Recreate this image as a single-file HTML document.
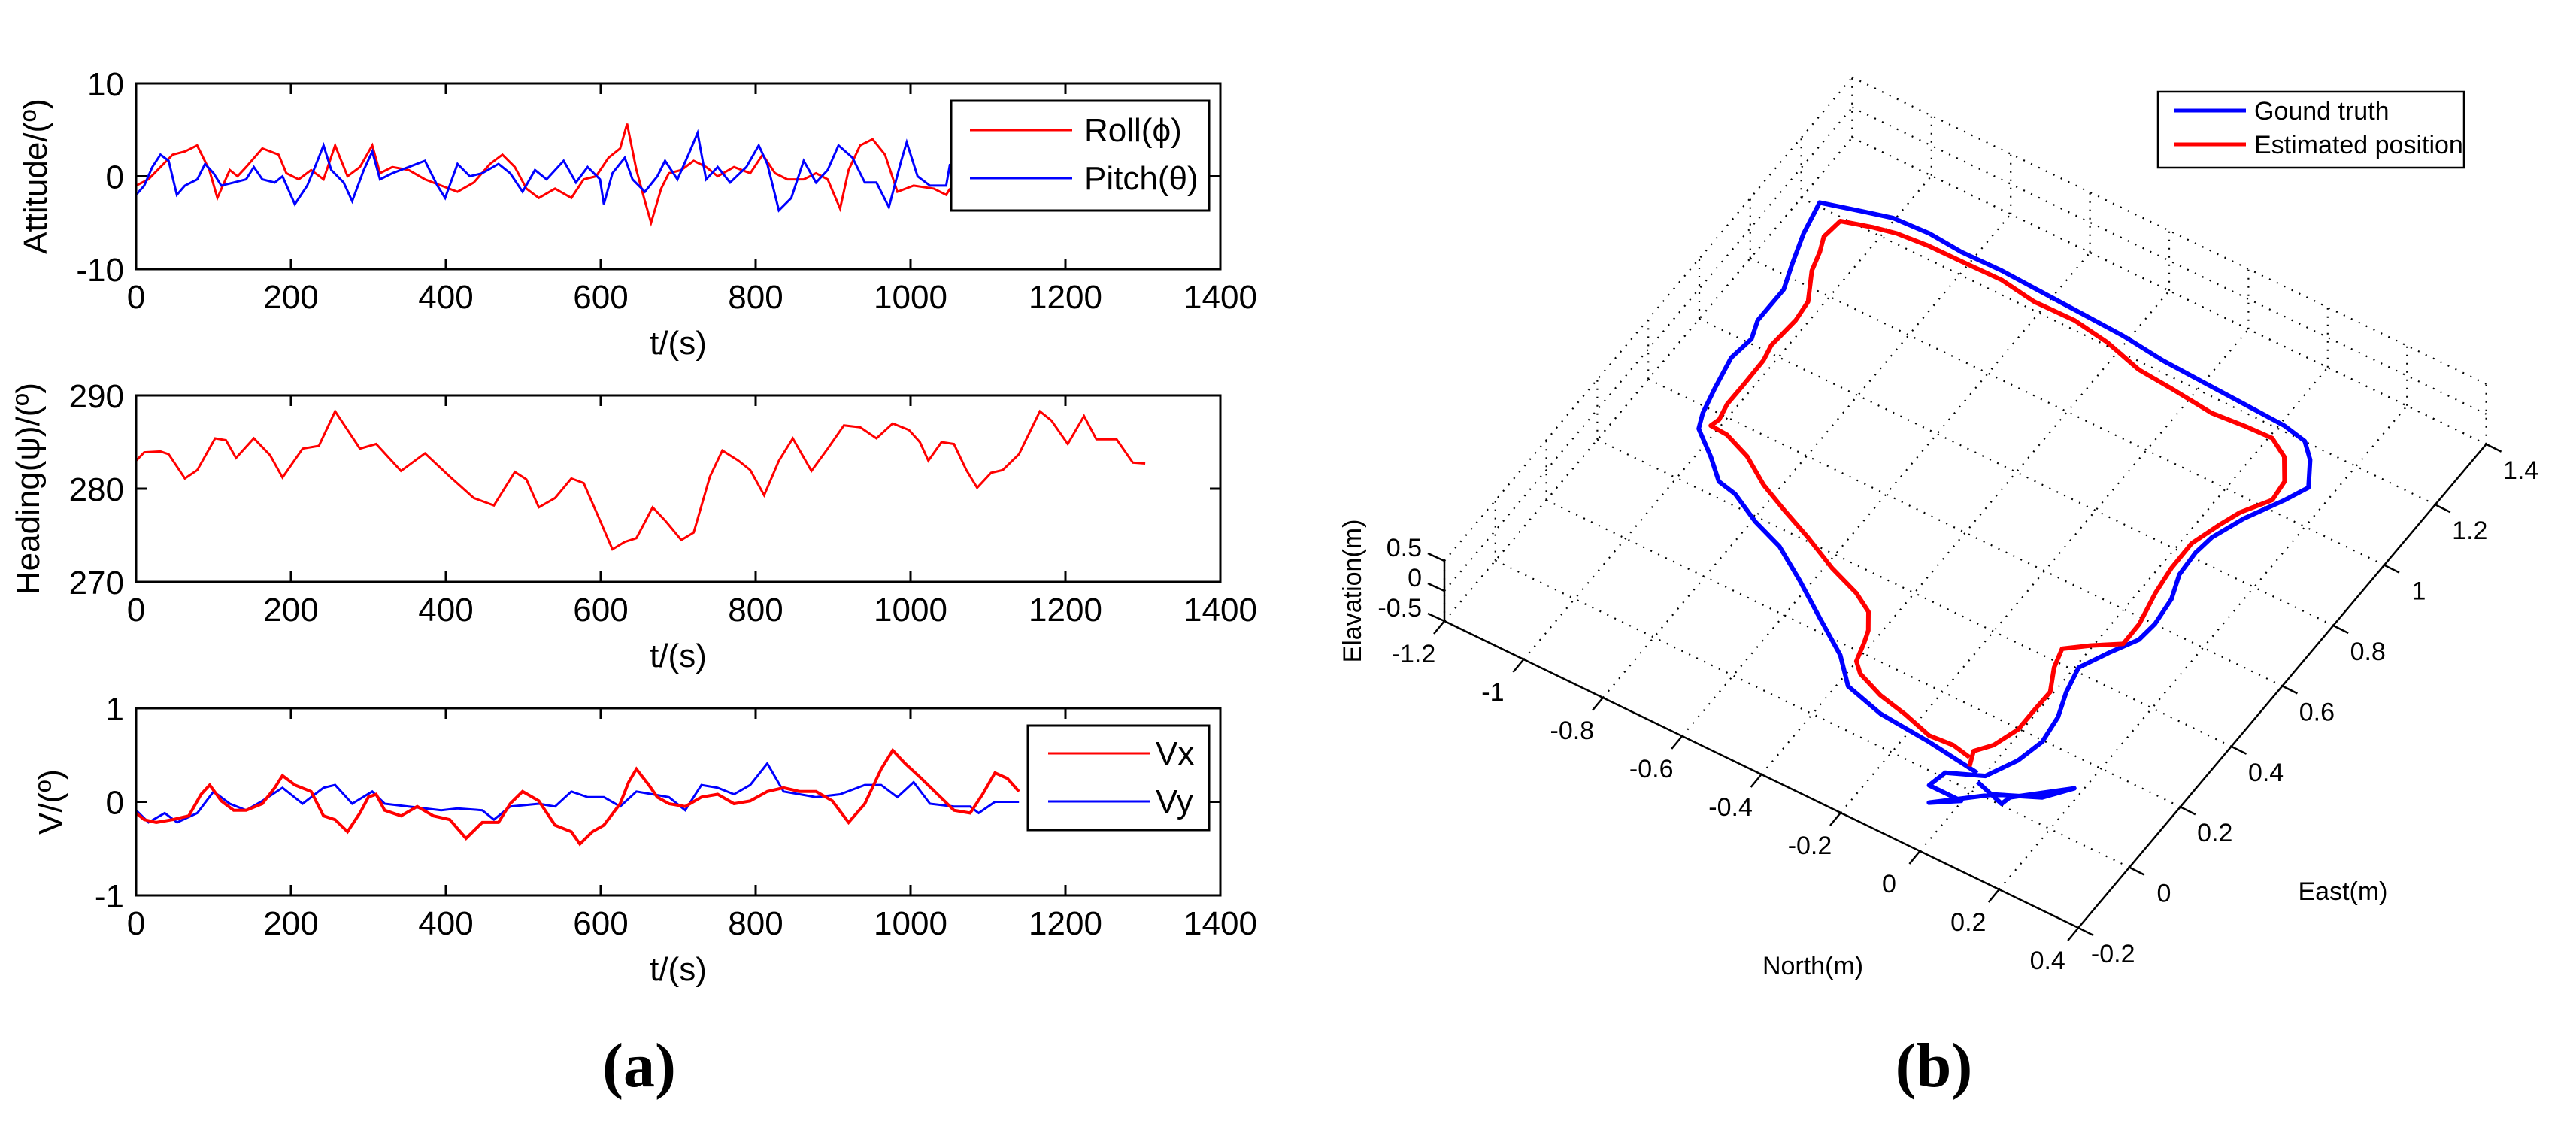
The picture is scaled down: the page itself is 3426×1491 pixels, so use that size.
<!DOCTYPE html>
<html><head><meta charset="utf-8"><style>
html,body{margin:0;padding:0;background:#fff;}
svg{display:block;font-family:"Liberation Sans",sans-serif;}
</style></head><body>
<svg id="fig" width="3426" height="1491" viewBox="0 0 3426 1491" xmlns="http://www.w3.org/2000/svg">
<rect width="3426" height="1491" fill="#fff"/>
<g id="left"></g>
<g id="right"></g>
<text x="850" y="1445" font-family="Liberation Serif,serif" font-weight="bold" font-size="84" text-anchor="middle">(a)</text>
<text x="2572" y="1445" font-family="Liberation Serif,serif" font-weight="bold" font-size="84" text-anchor="middle">(b)</text>
</svg>
<script>
// ---- Panel (a) data ----
const xTicks = [0,200,400,600,800,1000,1200,1400];
const attTicks = [10,0,-10];
const hdgTicks = [290,280,270];
const velTicks = [1,0,-1];
const rollT = [0,15.8,31.5,47.3,63.1,78.8,94.6,105,121,131,142,163,184,194,210,226,242,257,273,289,305,315,331,352,373,394,415,436,457,473,489,504,520,541,562,578,594,610,625,634,646,657,665,678,688,704,720,736,751,772,793,809,825,841,862,878,893,909,920,935,951,967,983,1004,1030,1046,1051];
const rollV = [-1,-0.33,1,2.33,2.67,3.33,0.67,-2.33,0.67,0,1,3,2.33,0.33,-0.33,0.67,-0.33,3.33,0,1,3.33,0.33,1,0.67,-0.33,-1,-1.67,-0.67,1.33,2.33,1,-1.33,-2.33,-1.33,-2.33,-0.33,0,2,3,5.67,0.67,-2.67,-5,-1.33,0.33,0.67,1.67,1,0,1,0.33,2.33,0.33,-0.33,-0.33,0.33,-0.33,-3.47,0.67,3.33,4,2.33,-1.67,-1,-1.33,-2,-1.33];
const pitchT = [0,10.5,21,31.5,42,52.6,63,79,89,100,110,126,142,152,163,179,189,205,221,231,242,252,268,279,294,305,315,331,352,373,389,399,415,431,447,468,483,499,515,530,552,568,583,599,604,615,631,641,657,673,683,699,715,725,736,751,767,788,804,815,830,846,862,878,893,907,925,941,956,972,988,995,1009,1025,1046,1051];
const pitchV = [-2,-1,1,2.33,1.67,-2,-1,-0.33,1.33,0.33,-1,-0.67,-0.33,1,-0.33,-0.67,0,-3,-1,1,3.33,0.67,-0.67,-2.67,0.67,2.67,-0.33,0.33,1,1.67,-1,-2.33,1.33,0,0.33,1.33,0.33,-1.67,0.67,-0.33,1.67,-0.67,1,-0.33,-3,0.33,2,-0.33,-1.67,0,1.67,-0.33,2.67,4.67,-0.33,1,-0.67,1,3.33,1.33,-3.67,-2.33,1.67,-0.67,0.67,3.33,2,-0.67,-0.67,-3.33,1.67,3.67,0,-1,-1,1.33];
const hdgT = [0,10.5,31.5,42,63,79,102,116,129,152,173,189,215,236,257,289,310,342,373,405,436,462,489,504,520,541,562,578,599,615,631,646,667,683,704,720,741,757,778,793,811,830,848,872,893,914,935,956,977,998,1012,1023,1040,1056,1072,1086,1104,1119,1140,1167,1182,1203,1224,1240,1266,1287,1303];
const hdgV = [283,283.9,284,283.7,281.1,282,285.4,285.2,283.3,285.4,283.6,281.2,284.3,284.6,288.3,284.3,284.8,281.9,283.8,281.3,279,278.2,281.8,281,278,279,281.1,280.6,276.6,273.5,274.3,274.7,278,276.6,274.5,275.3,281.3,284.1,283,282,279.3,283,285.4,281.9,284.3,286.8,286.6,285.4,287,286.3,285,283,285,284.8,282,280.1,281.7,282,283.7,288.3,287.3,284.8,287.8,285.3,285.3,282.8,282.7];
const vxT = [0,10.5,26,47,68,84,95,110,126,142,163,179,189,205,226,242,257,273,289,300,310,321,342,363,384,405,426,447,468,483,499,520,541,562,573,589,604,625,636,646,662,673,688,709,730,751,772,793,815,836,857,878,899,920,941,962,977,993,1014,1035,1056,1077,1093,1109,1125,1140];
const vxV = [-0.12,-0.19,-0.22,-0.19,-0.15,0.08,0.18,0.01,-0.09,-0.09,-0.02,0.15,0.28,0.18,0.11,-0.15,-0.19,-0.32,-0.12,0.05,0.08,-0.09,-0.15,-0.05,-0.15,-0.19,-0.39,-0.22,-0.22,-0.02,0.11,0.01,-0.25,-0.32,-0.45,-0.32,-0.25,-0.02,0.21,0.35,0.18,0.05,-0.02,-0.05,0.05,0.08,-0.02,0.01,0.11,0.15,0.11,0.11,0.01,-0.22,-0.02,0.35,0.55,0.41,0.25,0.08,-0.09,-0.12,0.08,0.31,0.25,0.11];
const vyT = [0,16,37,53,79,100,121,142,163,189,215,242,257,279,305,321,352,394,415,447,462,483,520,541,562,583,604,625,646,667,688,709,730,751,772,793,815,836,857,878,909,941,962,983,1004,1025,1056,1077,1088,1109,1140];
const vyV = [-0.09,-0.22,-0.12,-0.22,-0.12,0.11,-0.02,-0.09,0.01,0.15,-0.02,0.15,0.18,-0.02,0.11,-0.02,-0.05,-0.09,-0.07,-0.09,-0.19,-0.05,-0.02,-0.05,0.11,0.05,0.05,-0.05,0.11,0.08,0.05,-0.09,0.18,0.15,0.08,0.18,0.41,0.11,0.08,0.05,0.08,0.18,0.18,0.05,0.21,-0.02,-0.05,-0.05,-0.12,0,0];

// ---- Panel (b) data (north, east in metres) ----
const northTicks = [-1.2,-1,-0.8,-0.6,-0.4,-0.2,0,0.2,0.4];
const eastTicks = [-0.2,0,0.2,0.4,0.6,0.8,1,1.2,1.4];
const elevTicks = [0.5,0,-0.5];
const gtN = [-0.015,-0.149,-0.278,-0.378,-0.439,-0.532,-0.624,-0.712,-0.793,-0.871,-0.919,-0.971,-1.035,-1.051,-1.067,-1.084,-1.076,-1.093,-1.093,-1.116,-1.142,-1.160,-1.066,-1.006,-0.917,-0.831,-0.731,-0.626,-0.520,-0.415,-0.305,-0.200,-0.095,0.010,0.070,0.108,0.147,0.123,0.078,0.049,0.043,0.047,0.070,0.078,0.073,0.041,0.007,0.022,0.045,0.054,0.039,0.004,-0.073,-0.083,-0.002,-0.057,0.047,0.138,0.182,0.080,0.075,-0.001];
const gtE = [0.049,0.067,0.078,0.106,0.170,0.234,0.299,0.356,0.387,0.429,0.440,0.489,0.541,0.582,0.654,0.745,0.812,0.863,0.965,1.033,1.119,1.210,1.239,1.257,1.262,1.255,1.257,1.252,1.247,1.242,1.229,1.224,1.219,1.214,1.201,1.163,1.096,1.039,0.950,0.869,0.815,0.745,0.678,0.601,0.546,0.485,0.412,0.340,0.272,0.196,0.125,0.051,0.013,-0.035,-0.035,-0.076,0.017,0.065,0.123,0.028,0.004,0.028];
const estN = [-0.053,-0.101,-0.158,-0.234,-0.306,-0.375,-0.401,-0.415,-0.426,-0.454,-0.504,-0.585,-0.675,-0.761,-0.834,-0.906,-0.975,-1.018,-1.012,-1.021,-1.021,-1.022,-1.031,-1.025,-1.031,-1.071,-1.085,-1.101,-1.095,-1.028,-0.975,-0.899,-0.817,-0.717,-0.626,-0.525,-0.435,-0.335,-0.249,-0.139,-0.062,0.007,0.057,0.095,0.101,0.062,0.044,0.022,0.023,0.032,0.050,0.051,-0.005,-0.051,-0.037,-0.007,-0.008,-0.008,-0.028,-0.055,-0.039];
const estE = [0.077,0.087,0.082,0.105,0.121,0.149,0.174,0.227,0.260,0.304,0.334,0.365,0.410,0.448,0.483,0.531,0.559,0.562,0.586,0.631,0.693,0.775,0.820,0.906,0.964,1.041,1.094,1.135,1.190,1.212,1.225,1.232,1.233,1.235,1.221,1.223,1.209,1.180,1.173,1.161,1.168,1.171,1.141,1.083,1.026,0.960,0.908,0.832,0.751,0.674,0.583,0.518,0.477,0.437,0.384,0.322,0.259,0.197,0.133,0.096,0.055];

const NS = "http://www.w3.org/2000/svg";
function mk(parent, tag, attrs, txt){
  const el = document.createElementNS(NS, tag);
  for (const k in attrs) el.setAttribute(k, attrs[k]);
  if (txt !== undefined) el.textContent = txt;
  parent.appendChild(el);
  return el;
}
const L = document.getElementById('left');
const X0 = 181, X1 = 1623;
function sx(t){ return X0 + (t/1400)*(X1-X0); }
function mkY(top,bot,vmax,vmin){ return v => top + (vmax - v)/(vmax - vmin)*(bot-top); }

function panel(id, top, bot, vmax, vmin, yt, ylabel, ylx, series){
  const sy = mkY(top,bot,vmax,vmin);
  const g = mk(L,'g',{});
  
  
  const cp = mk(g,'clipPath',{id:'c'+id});
  mk(cp,'rect',{x:X0,y:top,width:X1-X0,height:bot-top});
  series.forEach(s=>{
    const pts = s.t.map((t,i)=>sx(t).toFixed(1)+','+sy(s.v[i]).toFixed(1)).join(' ');
    const pl = mk(g,'polyline',{points:pts,fill:'none',stroke:s.c,'stroke-width':s.w||3,'clip-path':'url(#c'+id+')'});
    
    
  });
  const fr = mk(g,'rect',{x:X0,y:top,width:X1-X0,height:bot-top,fill:'none',stroke:'#000','stroke-width':3});
  
  
  xTicks.forEach(t=>{
    const x = sx(t);
    mk(g,'line',{x1:x,y1:top,x2:x,y2:top+14,stroke:'#000','stroke-width':3});
    mk(g,'line',{x1:x,y1:bot,x2:x,y2:bot-14,stroke:'#000','stroke-width':3});
    const tl = mk(g,'text',{x:x,y:bot+52,'font-size':44,'text-anchor':'middle'},String(t));
    
    
  });
  yt.forEach(v=>{
    const y = sy(v);
    mk(g,'line',{x1:X0,y1:y,x2:X0+14,y2:y,stroke:'#000','stroke-width':3});
    mk(g,'line',{x1:X1,y1:y,x2:X1-14,y2:y,stroke:'#000','stroke-width':3});
    const tl = mk(g,'text',{x:165,y:y+16,'font-size':44,'text-anchor':'end'},String(v));
    
    
  });
  const xt = mk(g,'text',{x:(X0+X1)/2,y:bot+113,'font-size':44,'text-anchor':'middle'},'t/(s)');
  
  
  const cy=(top+bot)/2;
  const yl = mk(g,'text',{x:ylx,y:cy,'font-size':44,'text-anchor':'middle',transform:'rotate(-90 '+ylx+' '+cy+')'},ylabel);
  
  
  return g;
}
function legend(g, x, y, w, h, items, lx1, lx2, tx){
  const lg = mk(g,'g',{});
  
  
  mk(lg,'rect',{x:x,y:y,width:w,height:h,fill:'#fff',stroke:'#000','stroke-width':3});
  items.forEach(it=>{
    const e = mk(lg,'g',{});
    
    
    mk(e,'line',{x1:lx1,y1:it.y,x2:lx2,y2:it.y,stroke:it.c,'stroke-width':it.w||3});
    mk(e,'text',{x:tx,y:it.y+15,'font-size':it.fs||44},it.label);
  });
}
const g1 = panel('attitude-plot',111,358,10,-10,attTicks,'Attitude/(º)',62,[
  {t:rollT,v:rollV,c:'#ff0000',name:'roll-line'},{t:pitchT,v:pitchV,c:'#0000ff',name:'pitch-line'}]);
legend(g1,1265,134,343,146,[{y:173,c:'#ff0000',label:'Roll(ϕ)'},{y:237,c:'#0000ff',label:'Pitch(θ)'}],1290,1426,1442);
panel('heading-plot',526,774,290,270,hdgTicks,'Heading(ψ)/(º)',52,[{t:hdgT,v:hdgV,c:'#ff0000',name:'heading-line'}]);
const g3 = panel('velocity-plot',942,1191,1,-1,velTicks,'V/(º)',82,[
  {t:vyT,v:vyV,c:'#0000ff',name:'vy-line'},{t:vxT,v:vxV,c:'#ff0000',name:'vx-line',w:4}]);
legend(g3,1367,965,241,139,[{y:1002,c:'#ff0000',label:'Vx'},{y:1066,c:'#0000ff',label:'Vy'}],1394,1530,1537);

// ---- Panel (b) ----
const R = document.getElementById('right');
function P(n,e,z){
  return [1921 + 527*(n+1.2) + 339*(e+0.2), 826 + 255*(n+1.2) - 402*(e+0.2) - 80*(z+0.5)];
}
const dot = {stroke:'#000','stroke-width':2.2,'stroke-dasharray':'2 9',fill:'none'};
function ln(p,q,st,name){
  const a = Object.assign({x1:p[0],y1:p[1],x2:q[0],y2:q[1]},st);
  const l = mk(R,'line',a);
  
  
}
const zmin=-0.5,zmax=0.5,nmin=-1.2,nmax=0.4,emin=-0.2,emax=1.4;
northTicks.forEach(n=>ln(P(n,emin,zmin),P(n,emax,zmin),dot,'grid-line'));
eastTicks.forEach(e=>ln(P(nmin,e,zmin),P(nmax,e,zmin),dot,'grid-line'));
northTicks.forEach(n=>ln(P(n,emax,zmin),P(n,emax,zmax),dot,'grid-line'));
eastTicks.forEach(e=>ln(P(nmin,e,zmin),P(nmin,e,zmax),dot,'grid-line'));
elevTicks.forEach(z=>{ln(P(nmin,emax,z),P(nmax,emax,z),dot,'grid-line');ln(P(nmin,emin,z),P(nmin,emax,z),dot,'grid-line');});
const solid={stroke:'#000','stroke-width':2.5};
ln(P(nmin,emin,zmin),P(nmax,emin,zmin),solid,'north-axis');
ln(P(nmax,emin,zmin),P(nmax,emax,zmin),solid,'east-axis');
ln(P(nmin,emin,zmin),P(nmin,emin,zmax),solid,'elevation-axis');
northTicks.forEach(n=>{
  const p=P(n,emin,zmin); ln(p,[p[0]-14,p[1]+17],solid,'north-tick');
  const t=mk(R,'text',{x:p[0]-41,y:p[1]+55,'font-size':34,'text-anchor':'middle'},String(n));
  
  
});
eastTicks.forEach(e=>{
  const p=P(nmax,e,zmin); ln(p,[p[0]+20,p[1]+10],solid,'east-tick');
  const t=mk(R,'text',{x:p[0]+46,y:p[1]+46,'font-size':34,'text-anchor':'middle'},String(e));
  
  
});
elevTicks.forEach(z=>{
  const p=P(nmin,emin,z); ln(p,[p[0]-22,p[1]-10],solid,'elevation-tick');
  const t=mk(R,'text',{x:p[0]-30,y:p[1]-6,'font-size':34,'text-anchor':'end'},String(z));
  
  
});
function traj(N,E,c,name){
  const pts=N.map((n,i)=>{const p=P(n,E[i],zmin);return p[0].toFixed(1)+','+p[1].toFixed(1);}).join(' ');
  const pl=mk(R,'polyline',{points:pts,fill:'none',stroke:c,'stroke-width':6,'stroke-linejoin':'round'});
  
  
}
traj(gtN,gtE,'#0000ff','ground-truth-path');
traj(estN,estE,'#ff0000','estimated-path');
const tN=mk(R,'text',{x:2411,y:1296,'font-size':34,'text-anchor':'middle'},'North(m)');


const tE=mk(R,'text',{x:3116,y:1197,'font-size':34,'text-anchor':'middle'},'East(m)');


const tZ=mk(R,'text',{x:1810,y:786,'font-size':34,'text-anchor':'middle',transform:'rotate(-90 1810 786)'},'Elavation(m)');


const lg=mk(R,'g',{});


mk(lg,'rect',{x:2870,y:122,width:407,height:101,fill:'#fff',stroke:'#000','stroke-width':2.5});
mk(lg,'line',{x1:2891,y1:147,x2:2987,y2:147,stroke:'#0000ff','stroke-width':5});
mk(lg,'text',{x:2998,y:159,'font-size':34},'Gound truth');
mk(lg,'line',{x1:2891,y1:192,x2:2987,y2:192,stroke:'#ff0000','stroke-width':5});
mk(lg,'text',{x:2998,y:204,'font-size':34},'Estimated position');
</script>
</body></html>
